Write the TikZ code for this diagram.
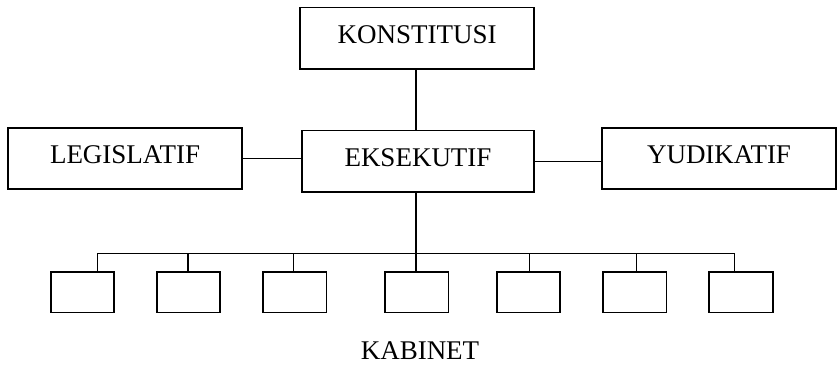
\documentclass[tikz,border=0pt]{standalone}
\usepackage{fontspec}
\setmainfont{Liberation Serif}
\begin{document}
\begin{tikzpicture}[x=1pt,y=-1pt,
  bigbox/.style={draw,line width=1.6pt,inner sep=0pt,minimum width=234pt,minimum height=61.5pt,text depth=8pt,font=\fontsize{27}{32}\selectfont},
  smallbox/.style={draw,line width=1.6pt,inner sep=0pt,minimum width=63.5pt,minimum height=40.6pt},
  link/.style={line width=1.5pt},
  label/.style={inner sep=0pt,font=\fontsize{27}{32}\selectfont}]
\useasboundingbox (0,0) rectangle (840,366);
\node[bigbox] (K) at (417.2,38.2) {KONSTITUSI};
\node[bigbox,minimum width=232pt,minimum height=61.3pt] (E) at (418,161.3) {EKSEKUTIF};
\node[bigbox,minimum height=61pt] (L) at (125,158.5) {LEGISLATIF};
\node[bigbox,minimum height=61pt] (Y) at (719,158.5) {YUDIKATIF};
\node[smallbox] (c1) at (82.5,292) {};
\node[smallbox] (c2) at (188.5,292) {};
\node[smallbox] (c3) at (294.7,292) {};
\node[smallbox] (c4) at (416.9,292) {};
\node[smallbox] (c5) at (528.5,292) {};
\node[smallbox] (c6) at (634.7,292) {};
\node[smallbox] (c7) at (741,292) {};
\node[label] (kab) at (420,350.5) {KABINET};
\coordinate (d1) at (97.7,253.3);
\coordinate (d2) at (188,253.3);
\coordinate (d3) at (293.7,253.3);
\coordinate (d4) at (416,253.3);
\coordinate (d5) at (529.7,253.3);
\coordinate (d6) at (636.7,253.3);
\coordinate (d7) at (734.7,253.3);
\draw[link] (d4 |- K.south) -- (d4 |- E.north);
\draw[link] (L.east) -- (L.east -| E.west);
\draw[link] (E.east |- 0,161.7) -- (Y.west |- 0,161.7);
\draw[link] (d4 |- E.south) -- (d4 |- c4.north);
\draw[link] (d1) -- (d7);
\foreach \i in {1,2,3,5,6,7} {
  \draw[link] (d\i) -- (d\i |- c\i.north);
}
\end{tikzpicture}
\end{document}
